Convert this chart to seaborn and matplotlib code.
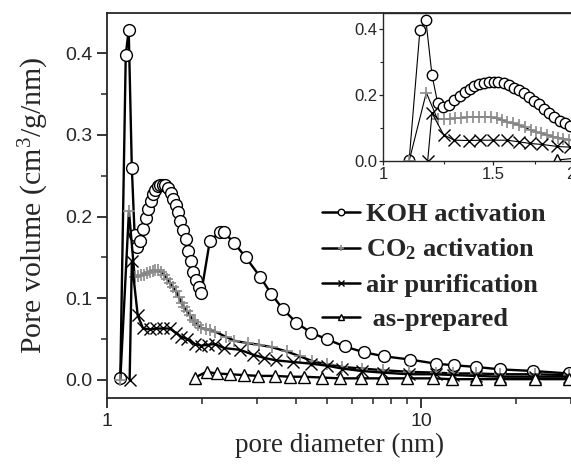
import numpy as np
import pandas as pd
import seaborn as sns
import matplotlib
matplotlib.use('Agg')
import matplotlib.pyplot as plt
from matplotlib.ticker import FixedLocator, NullFormatter, FuncFormatter, MultipleLocator

# KOH activation (circles)
koh_x = [1.10, 1.145, 1.17, 1.197, 1.222, 1.247, 1.275, 1.30, 1.326, 1.35, 1.375, 1.40,
         1.423, 1.45, 1.477, 1.504, 1.53, 1.56, 1.59, 1.62, 1.65, 1.68, 1.71, 1.745,
         1.777, 1.81, 1.845, 1.88, 1.92, 1.955, 1.99, 2.12, 2.28, 2.35, 2.53, 2.76,
         3.07, 3.33, 3.62, 4.0, 4.45, 4.99, 5.7, 6.55, 7.6, 9.2, 11.1, 12.7, 14.9,
         17.8, 22.7, 29.4]
koh_y = [0.002, 0.398, 0.428, 0.260, 0.177, 0.163, 0.170, 0.185, 0.198, 0.209, 0.219, 0.227,
         0.233, 0.237, 0.239, 0.239, 0.238, 0.235, 0.229, 0.222, 0.214, 0.205, 0.195, 0.183,
         0.172, 0.158, 0.145, 0.132, 0.122, 0.114, 0.106, 0.170, 0.181, 0.181, 0.168, 0.150,
         0.126, 0.105, 0.087, 0.070, 0.058, 0.050, 0.041, 0.034, 0.029, 0.025, 0.020, 0.018,
         0.016, 0.013, 0.011, 0.008]

# CO2 activation (plus)
co2_x = [1.10, 1.172, 1.222, 1.249, 1.278, 1.305, 1.333, 1.363, 1.394, 1.423, 1.455, 1.486,
         1.519, 1.552, 1.581, 1.614, 1.650, 1.686, 1.723, 1.756, 1.793, 1.829, 1.869, 1.904,
         1.944, 1.987, 2.06, 2.13, 2.21, 2.38, 2.54, 2.80, 3.05, 3.35, 3.72, 4.10, 4.50,
         5.0, 5.6, 6.45, 7.55, 9.1, 11.1, 12.6, 14.9, 17.8, 23.0, 29.4]
co2_y = [0.0, 0.207, 0.126, 0.127, 0.128, 0.129, 0.131, 0.132, 0.133, 0.134, 0.134, 0.132,
         0.129, 0.124, 0.119, 0.114, 0.109, 0.102, 0.094, 0.089, 0.084, 0.079, 0.074, 0.071,
         0.067, 0.064, 0.062, 0.061, 0.059, 0.053, 0.048, 0.045, 0.043, 0.040, 0.035, 0.029,
         0.023, 0.019, 0.016, 0.014, 0.012, 0.010, 0.009, 0.008, 0.008, 0.007, 0.007, 0.006]

# air purification (x)
air_x = [1.178, 1.197, 1.25, 1.30, 1.37, 1.43, 1.50, 1.58, 1.65, 1.72, 1.80, 1.90, 1.99,
         2.09, 2.20, 2.36, 2.64, 2.91, 3.16, 3.45, 3.90, 4.45, 5.0, 5.6, 6.45, 7.55, 9.1,
         11.1, 12.6, 14.9, 17.8, 23.0, 29.4]
air_y = [0.0, 0.145, 0.079, 0.063, 0.062, 0.063, 0.063, 0.063, 0.058, 0.053, 0.050, 0.044,
         0.042, 0.043, 0.044, 0.039, 0.037, 0.031, 0.027, 0.024, 0.022, 0.020, 0.0175, 0.014,
         0.011, 0.009, 0.007, 0.007, 0.006, 0.005, 0.004, 0.004, 0.004]

# as-prepared (triangles)
ap_x = [1.90, 2.07, 2.23, 2.46, 2.73, 3.02, 3.41, 3.82, 4.22, 4.82, 5.5, 6.42, 7.47, 9.0,
        10.9, 12.5, 14.9, 17.8, 23.0, 29.4]
ap_y = [0.003, 0.010, 0.008, 0.007, 0.006, 0.005, 0.005, 0.004, 0.004, 0.003, 0.002, 0.002,
        0.002, 0.002, 0.002, 0.001, 0.001, 0.001, 0.001, 0.001]

labels = ['KOH activation', r'CO$_\mathbf{2}$ activation', 'air purification', ' as-prepared']

sns.set_style('ticks')
plt.rcParams['font.family'] = ['Liberation Sans', 'DejaVu Sans']
plt.rcParams['mathtext.fontset'] = 'custom'
plt.rcParams['mathtext.rm'] = 'Liberation Serif'
plt.rcParams['mathtext.bf'] = 'Liberation Serif:bold'
plt.rcParams['mathtext.it'] = 'Liberation Serif:italic'

series = [
    (koh_x, koh_y, dict(marker='o', mfc='white', mec='black', mew=1.0, ms=8.5)),
    (co2_x, co2_y, dict(marker='+', mec='#8a8a8a', mew=1.2, ms=9)),
    (air_x, air_y, dict(marker='x', mec='black', mew=1.0, ms=9)),
    (ap_x, ap_y, dict(marker='^', mfc='white', mec='black', mew=1.0, ms=9)),
]

fig = plt.figure(figsize=(5.71, 4.66), dpi=100)
ax = fig.add_axes([0.1879, 0.146, 0.8126, 0.826])

for (xs, ys, st), lab in zip(series, labels):
    sns.lineplot(x=xs, y=ys, ax=ax, color='black', lw=1.7, sort=False,
                 estimator=None, label=lab, **st)

ax.set_xscale('log')
ax.set_xlim(1, 30)
ax.set_ylim(-0.022, 0.449)
ax.spines['right'].set_visible(False)
for s in ax.spines.values():
    s.set_linewidth(1.3)
ax.yaxis.set_major_locator(MultipleLocator(0.1))
ax.yaxis.set_minor_locator(MultipleLocator(0.05))
ax.yaxis.set_major_formatter(FuncFormatter(lambda v, p: f'{v:.1f}'))
ax.xaxis.set_major_formatter(FuncFormatter(lambda v, p: f'{v:g}'))
ax.xaxis.set_minor_formatter(NullFormatter())
ax.tick_params(which='major', length=7, width=1.3, labelsize=14, pad=4, direction='out')
ax.tick_params(which='minor', length=4, width=1.1, direction='out')
ax.tick_params(top=False, right=False, which='both')
ax.set_xlabel('pore diameter (nm)', family='Liberation Serif', fontsize=19.5, labelpad=2)
ax.set_ylabel('Pore volume (cm$^3$/g/nm)', family='Liberation Serif', fontsize=21.5, labelpad=10)

leg = ax.legend(loc='upper left', bbox_to_anchor=(0.44, 0.535), frameon=False,
                prop=dict(family='Liberation Serif', weight='bold', size=19),
                handlelength=1.45, handletextpad=0.2, markerscale=0.55, labelspacing=0.41,
                borderaxespad=0)
for ln in leg.get_lines():
    ln.set_linewidth(1.8)

# inset
axin = fig.add_axes([0.6713, 0.6545, 0.3287, 0.3175])
axin.set_facecolor('white')
for xs, ys, st in series:
    st_in = dict(st, ms=st['ms'] - 1)
    sns.lineplot(x=xs, y=ys, ax=axin, color='black', lw=0.8, sort=False,
                 estimator=None, legend=False, **st_in)
axin.set_xscale('log')
axin.set_xlim(1, 2.0)
axin.set_ylim(0, 0.448)
axin.spines['right'].set_visible(False)
for s in axin.spines.values():
    s.set_linewidth(1.0)
axin.xaxis.set_major_locator(FixedLocator([1, 1.5, 2]))
axin.xaxis.set_minor_locator(FixedLocator([1.25, 1.75]))
axin.xaxis.set_major_formatter(FuncFormatter(lambda v, p: f'{v:g}'))
axin.xaxis.set_minor_formatter(NullFormatter())
axin.yaxis.set_major_locator(MultipleLocator(0.2))
axin.yaxis.set_minor_locator(MultipleLocator(0.1))
axin.yaxis.set_major_formatter(FuncFormatter(lambda v, p: f'{v:.1f}'))
axin.tick_params(which='major', length=3, width=0.9, labelsize=12, pad=1.5, direction='out')
axin.tick_params(which='minor', length=2, width=0.8, direction='out')
axin.set_xlabel('')
axin.set_ylabel('')

fig.savefig('out.png', dpi=100)
